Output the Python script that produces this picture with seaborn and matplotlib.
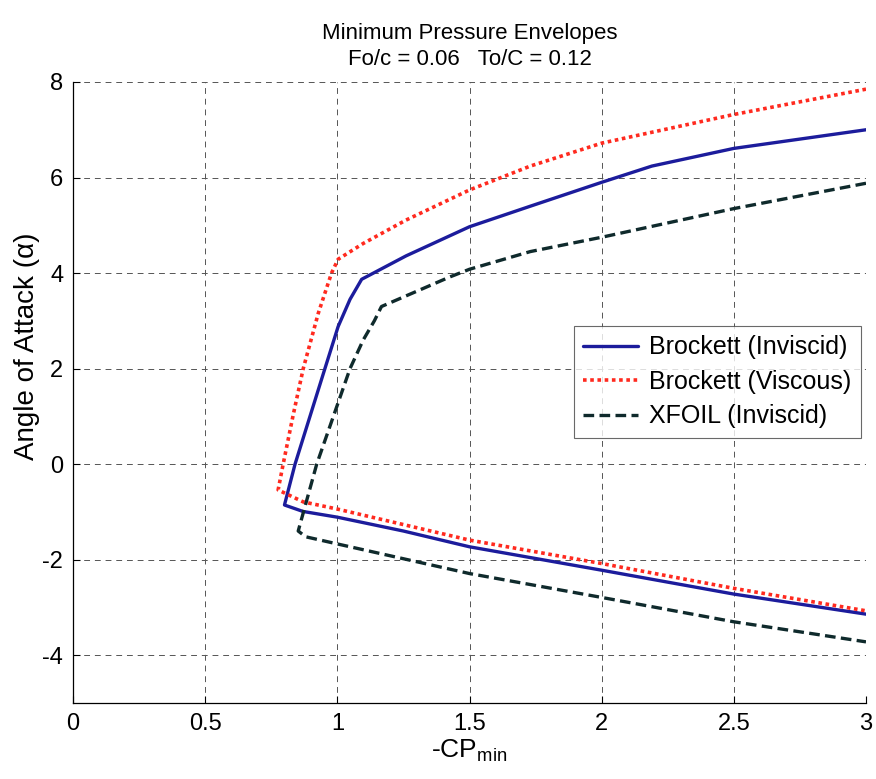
import matplotlib
matplotlib.use("Agg")
import matplotlib.pyplot as plt
import seaborn as sns
import pandas as pd

# Brockett (Inviscid) - traced along the envelope (upper branch -> nose -> lower branch)
inv_x = [3.0, 2.5, 2.19, 2.0, 1.73, 1.5, 1.26, 1.092, 1.048, 1.003, 0.953, 0.84, 0.80,
         0.87, 1.0, 1.25, 1.5, 2.0, 2.5, 3.0]
inv_y = [7.0, 6.61, 6.24, 5.90, 5.40, 4.97, 4.36, 3.87, 3.45, 2.88, 2.0, 0.0, -0.855,
         -0.99, -1.11, -1.40, -1.73, -2.22, -2.72, -3.14]

# Brockett (Viscous)
vis_x = [3.0, 2.5, 2.0, 1.73, 1.5, 1.26, 1.098, 1.003, 0.978, 0.928, 0.871, 0.833, 0.795, 0.776,
         0.871, 1.0, 1.5, 2.0, 2.5, 3.0]
vis_y = [7.85, 7.32, 6.72, 6.24, 5.74, 5.11, 4.62, 4.29, 4.0, 3.16, 2.0, 1.03, 0.0, -0.54,
         -0.79, -0.94, -1.59, -2.08, -2.60, -3.07]

# XFOIL (Inviscid)
xf_x = [3.0, 2.5, 2.0, 1.73, 1.5, 1.426, 1.167, 1.14, 1.098, 1.048, 0.922, 0.852,
        0.88, 1.0, 1.5, 2.0, 2.5, 3.0]
xf_y = [5.88, 5.35, 4.75, 4.45, 4.08, 3.92, 3.30, 3.0, 2.6, 2.0, 0.0, -1.40,
        -1.52, -1.67, -2.29, -2.79, -3.30, -3.72]

series_names = ["Brockett (Inviscid)", "Brockett (Viscous)", "XFOIL (Inviscid)"]
x_ticks = [0, 0.5, 1, 1.5, 2, 2.5, 3]
x_tick_labels = ["0", "0.5", "1", "1.5", "2", "2.5", "3"]
y_ticks = [-4, -2, 0, 2, 4, 6, 8]
y_tick_labels = ["-4", "-2", "0", "2", "4", "6", "8"]

sns.set_theme(style="white")
plt.rcParams["font.family"] = ["Liberation Sans", "DejaVu Sans"]
plt.rcParams["text.color"] = "black"
plt.rcParams["axes.labelcolor"] = "black"
plt.rcParams["mathtext.fontset"] = "custom"
plt.rcParams["mathtext.rm"] = "Liberation Sans"
plt.rcParams["mathtext.it"] = "Liberation Sans"

fig = plt.figure(figsize=(8.76, 7.79), dpi=100)
ax = fig.add_axes([73 / 876, 1 - 703 / 779, (866 - 73) / 876, (703 - 82) / 779])

styles = [
    dict(color="#1c1c9c", linestyle="-", linewidth=2.4),
    dict(color="#ff2a1f", linestyle=(0, (1, 1)), linewidth=2.6),
    dict(color="#0f2a2c", linestyle=(0, (3.2, 1.6)), linewidth=2.4),
]
for (xs, ys), name, st in zip([(inv_x, inv_y), (vis_x, vis_y), (xf_x, xf_y)], series_names, styles):
    df = pd.DataFrame({"x": xs, "y": ys})
    sns.lineplot(data=df, x="x", y="y", sort=False, estimator=None, ax=ax, label=name, **st)

ax.set_xlim(0, 3)
ax.set_ylim(-5, 8)
ax.set_xticks(x_ticks)
ax.set_xticklabels(x_tick_labels, fontsize=17)
ax.set_yticks(y_ticks)
ax.set_yticklabels(y_tick_labels, fontsize=17)
ax.tick_params(axis="both", direction="in", length=5, width=0.8,
               colors="black", pad=7, top=False, right=False, bottom=True, left=True)

ax.grid(True, color="#555555", linestyle=(0, (6, 5)), linewidth=0.7)
for side in ["top", "right"]:
    ax.spines[side].set_visible(False)
for side in ["left", "bottom"]:
    ax.spines[side].set_color("black")
    ax.spines[side].set_linewidth(0.9)

ax.set_xlabel(r"-CP$_{\mathregular{min}}$", fontsize=19, labelpad=2)
ax.set_ylabel("Angle of Attack (α)", fontsize=20)
ax.yaxis.set_label_coords(-0.041, 0.575)
ax.set_title("Minimum Pressure Envelopes\nFo/c = 0.06   To/C = 0.12", fontsize=16,
             pad=12, linespacing=1.35)

leg = ax.legend(loc="center right", bbox_to_anchor=(1.0, 0.517), fontsize=18,
                frameon=True, fancybox=False, borderaxespad=0.2, handlelength=2.2,
                labelspacing=0.42, borderpad=0.38, handletextpad=0.45)
leg.get_frame().set_edgecolor("#444444")
leg.get_frame().set_linewidth(0.8)

fig.savefig("out.png", dpi=100, facecolor="white")
